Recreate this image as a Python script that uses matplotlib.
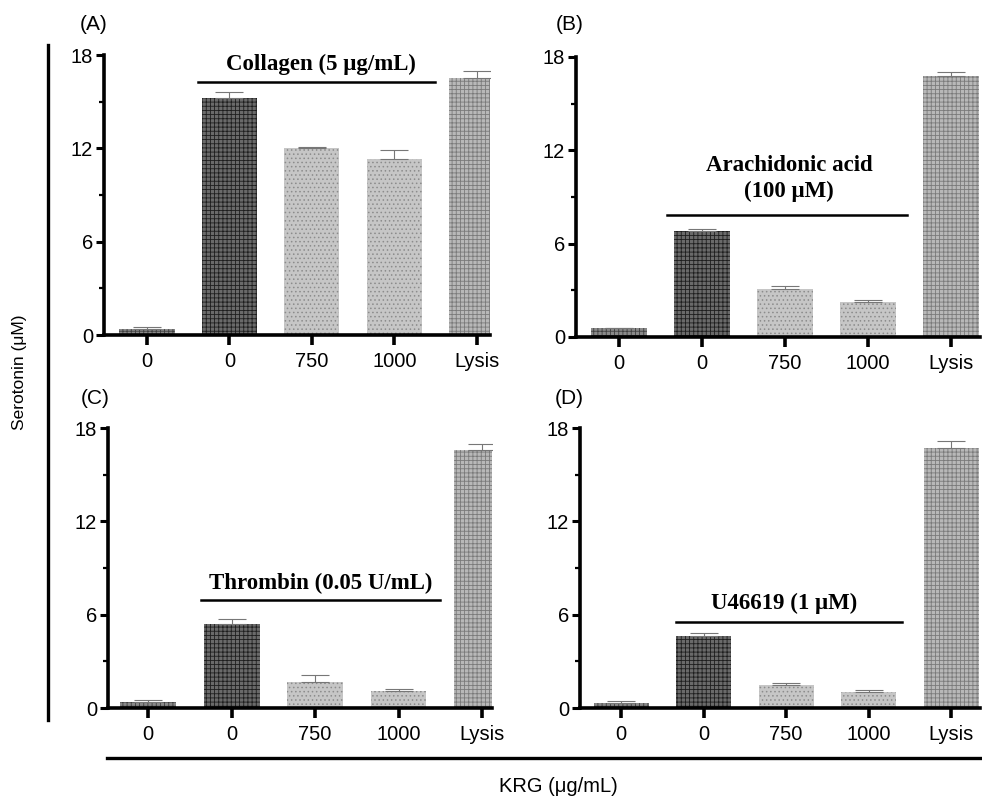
import numpy as np
import matplotlib
matplotlib.use('Agg')
import matplotlib.pyplot as plt
from matplotlib.lines import Line2D
from matplotlib.ticker import MultipleLocator

plt.rcParams['font.family'] = ['Liberation Sans', 'DejaVu Sans']
plt.rcParams['hatch.linewidth'] = 0.6

# data (serotonin, uM)
categories = ['0', '0', '750', '1000', 'Lysis']
vals_a = [0.4, 15.25, 12.0, 11.3, 16.55]
err_a = [0.1, 0.4, 0.1, 0.6, 0.4]
vals_b = [0.55, 6.8, 3.1, 2.25, 16.75]
err_b = [0.05, 0.15, 0.15, 0.1, 0.3]
vals_c = [0.4, 5.4, 1.7, 1.1, 16.6]
err_c = [0.1, 0.35, 0.4, 0.1, 0.4]
vals_d = [0.35, 4.6, 1.5, 1.05, 16.7]
err_d = [0.1, 0.25, 0.1, 0.1, 0.45]

panel_labels = ['(A)', '(B)', '(C)', '(D)']
agonists = ['Collagen (5 \u03bcg/mL)', 'Arachidonic acid\n(100 \u03bcM)',
            'Thrombin (0.05 U/mL)', 'U46619 (1 \u03bcM)']

faces = ['#8a8a8a', '#6a6a6a', '#c6c6c6', '#c6c6c6', '#b8b8b8']
hatchcol = ['#404040', '#1e1e1e', '#8c8c8c', '#8c8c8c', '#7a7a7a']
hatches = ['++++', '++++', '....', '....', '++++']

W, H = 982, 796
fig = plt.figure(figsize=(W / 100, H / 100), dpi=100)

def box(l, r, t, b):
    return [l / W, 1 - b / H, (r - l) / W, (b - t) / H]

# axes boxes in pixels: left, right, top, bottom
boxes = [box(104, 490, 55, 335), box(576, 980, 57, 337),
         box(108, 492, 428, 708), box(580, 980, 428, 708)]
xlims = [(-0.52, 4.16), (-0.52, 4.35), (-0.48, 4.12), (-0.5, 4.35)]
# annotation line: y, x0, x1 ; text x, y
ann = [(16.26, 0.62, 3.49, 2.11, 17.4),
       (7.84, 0.58, 3.47, 2.05, 10.2),
       (6.94, 0.64, 3.50, 2.07, 8.0),
       (5.52, 0.67, 3.41, 1.97, 6.75)]
all_vals = [vals_a, vals_b, vals_c, vals_d]
all_errs = [err_a, err_b, err_c, err_d]

x = np.arange(len(categories))
for i in range(4):
    ax = fig.add_axes(boxes[i])
    for j in range(len(categories)):
        ax.bar(x[j], all_vals[i][j], width=0.67, color=faces[j],
               edgecolor=hatchcol[j], hatch=hatches[j], linewidth=0, zorder=2)
    ax.errorbar(x, all_vals[i], yerr=[np.zeros(5), all_errs[i]], fmt='none',
                ecolor='#777777', elinewidth=0.8, capsize=10, capthick=0.8,
                zorder=3)
    ax.set_ylim(0, 18)
    ax.set_xlim(*xlims[i])
    ax.set_yticks([0, 6, 12, 18])
    ax.yaxis.set_minor_locator(MultipleLocator(3))
    ax.set_xticks(x)
    ax.set_xticklabels(categories)
    for s in ['top', 'right']:
        ax.spines[s].set_visible(False)
    for s in ['left', 'bottom']:
        ax.spines[s].set_linewidth(2.6)
    ax.tick_params(axis='y', which='major', length=6, width=2.2,
                   labelsize=14.5, pad=2)
    ax.tick_params(axis='y', which='minor', length=3.5, width=1.6)
    ax.tick_params(axis='x', which='major', length=7, width=2.6,
                   labelsize=14.5, pad=5)
    ly, x0, x1, tx, ty = ann[i]
    ax.plot([x0, x1], [ly, ly], color='black', lw=1.8, zorder=4,
            clip_on=False)
    ax.text(tx, ty, agonists[i], ha='center', va='center', fontsize=16.5,
            fontweight='bold', family=['Liberation Serif', 'DejaVu Serif'],
            linespacing=1.3)

# panel labels
for lab, (px, py) in zip(panel_labels, [(94, 25), (570, 25), (95, 398), (569, 398)]):
    fig.text(px / W, 1 - py / H, lab, ha='center', va='center', fontsize=15)

# outer framing lines and shared axis titles
fig.add_artist(Line2D([48 / W, 48 / W], [1 - 45 / H, 1 - 720 / H],
                      color='black', lw=2.4))
fig.add_artist(Line2D([107 / W, 980 / W], [1 - 758 / H, 1 - 758 / H],
                      color='black', lw=2.4))
fig.text(20 / W, 1 - 372 / H, 'Serotonin (\u03bcM)', rotation=90,
         ha='center', va='center', fontsize=12.5)
fig.text(558 / W, 1 - 787 / H, 'KRG (\u03bcg/mL)', ha='center',
         va='center', fontsize=14.5)

fig.savefig('out.png', dpi=100)
